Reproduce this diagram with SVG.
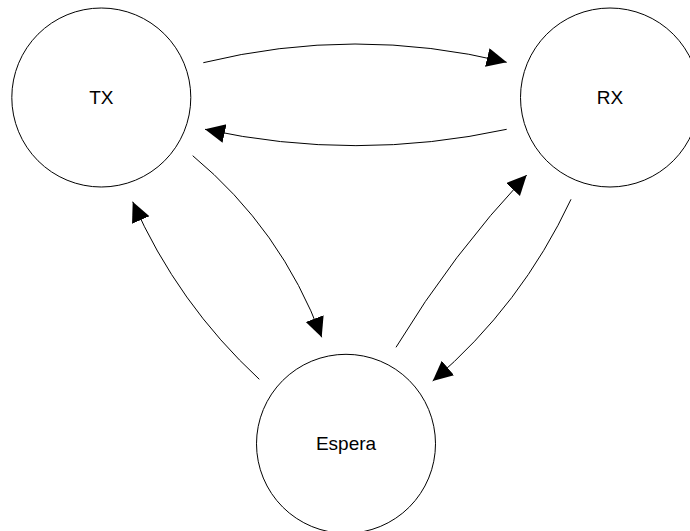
<svg xmlns="http://www.w3.org/2000/svg" width="690" height="531" viewBox="0 0 690 531">
  <defs>
    <style>
      .state { fill: #ffffff; stroke: #000000; stroke-width: 1; }
      .label { font-family: "Liberation Sans", Arial, sans-serif; font-size: 19px; fill: #000000; text-anchor: middle; }
      .edge { fill: none; stroke: #000000; stroke-width: 1; marker-end: url(#arrow); }
    </style>
    <marker id="arrow" markerUnits="userSpaceOnUse" markerWidth="22" markerHeight="20" refX="20" refY="9.5" orient="auto">
      <path d="M0,0 L20,9.5 L0,19 z" fill="#000000"/>
    </marker>
  </defs>

  <rect width="690" height="531" fill="#ffffff"/>

  <!-- transitions -->
  <g id="connectors">
    <path class="edge" d="M203.3,62.7 Q355,25.5 506.7,62.3"/>
    <path class="edge" d="M506.7,129.3 Q356,162 205,129.3"/>
    <path class="edge" d="M192.7,155.7 Q281.3,229.4 321.7,337.3"/>
    <path class="edge" d="M259.3,379.3 Q177.6,303.6 132.7,201.7"/>
    <path class="edge" d="M396,347.3 Q452.3,254.3 526.7,175"/>
    <path class="edge" d="M571,199.3 Q521.5,305.1 432.7,381"/>
  </g>

  <!-- states -->
  <g id="tx">
    <circle class="state" cx="101.3" cy="97.5" r="89.5"/>
    <text class="label" x="101.3" y="104">TX</text>
  </g>
  <g id="rx">
    <circle class="state" cx="610" cy="97.5" r="89.5"/>
    <text class="label" x="610" y="104">RX</text>
  </g>
  <g id="espera">
    <circle class="state" cx="346" cy="443.8" r="89.5"/>
    <text class="label" x="346" y="450">Espera</text>
  </g>
</svg>
